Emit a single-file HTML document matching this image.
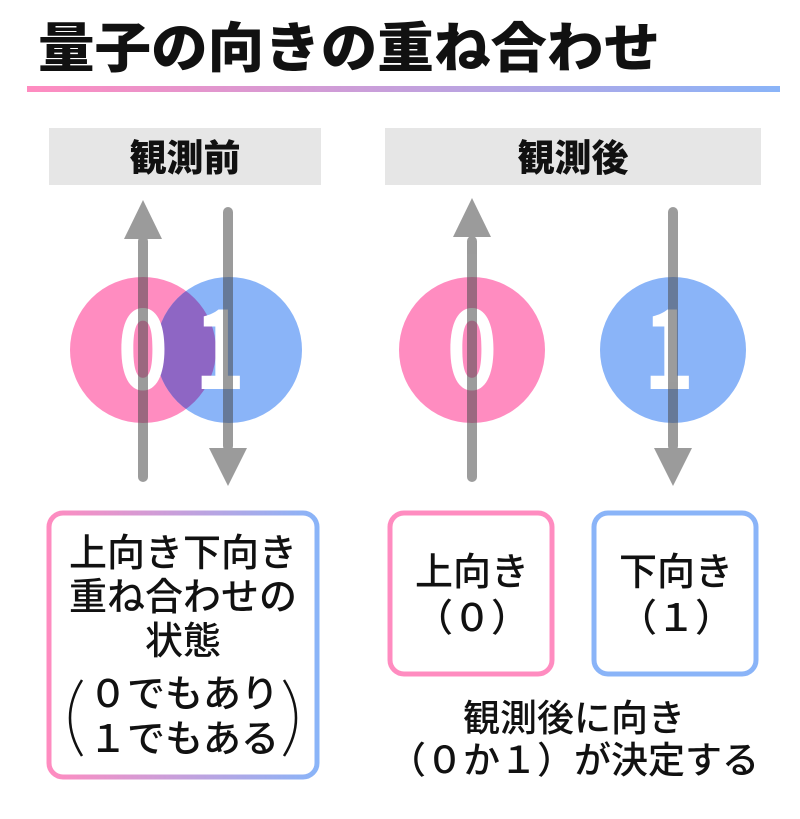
<!DOCTYPE html>
<html><head><meta charset="utf-8"><style>
html,body{margin:0;padding:0;background:#fff;}
svg{display:block}
text{font-family:"Noto Sans CJK JP","Liberation Sans",sans-serif;}
</style></head><body>
<svg width="800" height="819" viewBox="0 0 800 819" xmlns="http://www.w3.org/2000/svg">
<defs>
<linearGradient id="g" x1="0" x2="1" y1="0" y2="0"><stop offset="0" stop-color="#ff8cc0"/><stop offset="1" stop-color="#8ab4f8"/></linearGradient>
<clipPath id="cp"><circle cx="143" cy="350" r="73"/></clipPath>
</defs>
<text x="38" y="67" font-size="54" font-weight="900" fill="#111" textLength="622" lengthAdjust="spacingAndGlyphs">量子の向きの重ね合わせ</text>
<rect x="27" y="86" width="753" height="6" fill="url(#g)"/>

<rect x="49" y="128" width="272" height="57" fill="#e6e6e6"/>
<rect x="385" y="128" width="376" height="57" fill="#e6e6e6"/>
<text x="185" y="171" font-size="37" font-weight="900" text-anchor="middle" fill="#111">観測前</text>
<text x="573" y="171" font-size="37" font-weight="900" text-anchor="middle" fill="#111">観測後</text>

<circle cx="143" cy="350" r="73" fill="#ff8cc0"/>
<circle cx="229" cy="350" r="73" fill="#8ab4f8"/>
<circle cx="229" cy="350" r="73" fill="#8e66c4" clip-path="url(#cp)"/>
<circle cx="472" cy="350" r="73" fill="#ff8cc0"/>
<circle cx="673" cy="350" r="73" fill="#8ab4f8"/>

<g font-weight="bold" fill="#fff" font-size="110" text-anchor="middle">
<text x="143" y="389" transform="translate(143 0) scale(0.78 1) translate(-143 0)">0</text>
<text x="220" y="389" transform="translate(220 0) scale(0.78 1) translate(-220 0)">1</text>
<text x="472" y="389" transform="translate(472 0) scale(0.78 1) translate(-472 0)">0</text>
<text x="669" y="389" transform="translate(669 0) scale(0.78 1) translate(-669 0)">1</text>
</g>

<g fill="#4a4a4a" opacity="0.55">
<rect x="138" y="236" width="10" height="246" rx="5"/>
<polygon points="143,200 124,239 162,239"/>
<rect x="223" y="207" width="10" height="244" rx="5"/>
<polygon points="228,486 209,448 247,448"/>
<rect x="467" y="236" width="10" height="246" rx="5"/>
<polygon points="472,198 453,237 491,237"/>
<rect x="668" y="207" width="10" height="244" rx="5"/>
<polygon points="673,486 654,448 692,448"/>
</g>

<rect x="49" y="513" width="268" height="264" rx="14" fill="none" stroke="url(#g)" stroke-width="5"/>
<rect x="390" y="513" width="162" height="161" rx="14" fill="none" stroke="#ff8cc0" stroke-width="5"/>
<rect x="594" y="513" width="162" height="161" rx="14" fill="none" stroke="#8ab4f8" stroke-width="5"/>

<path d="M82,680 Q58,718 82,756" fill="none" stroke="#111" stroke-width="2.5"/>
<path d="M284,680 Q308,718 284,756" fill="none" stroke="#111" stroke-width="2.5"/>

<g font-size="38" font-weight="500" fill="#111" text-anchor="middle">
<text x="183" y="566">上向き下向き</text>
<text x="183" y="610">重ね合わせの</text>
<text x="183" y="654">状態</text>
<text x="184" y="707">０でもあり</text>
<text x="184" y="752">１でもある</text>
<text x="472" y="585">上向き</text>
<text x="472" y="631">（０）</text>
<text x="676" y="585">下向き</text>
<text x="676" y="631">（１）</text>
<text x="574" y="731" font-size="37">観測後に向き</text>
<text x="574" y="773" font-size="37">（０か１）が決定する</text>
</g>
</svg>
</body></html>
